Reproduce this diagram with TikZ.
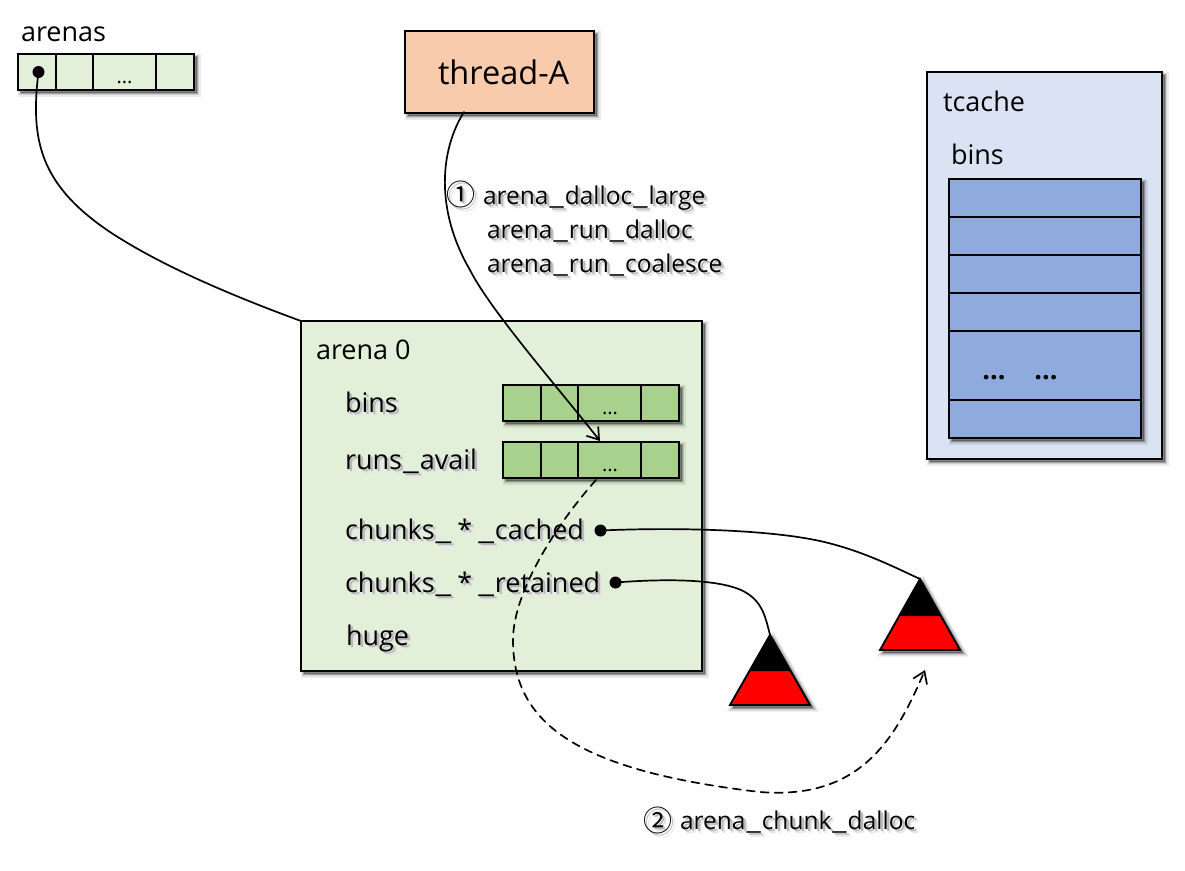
\documentclass[tikz,border=0pt]{standalone}
\usepackage{fontspec}
\setmainfont{Open Sans}
\newfontfamily\cjkf{Noto Sans CJK JP}
\usetikzlibrary{arrows.meta,shapes.geometric}
\definecolor{lightg}{HTML}{E2F0D9}
\definecolor{midg}{HTML}{A9D18E}
\definecolor{peach}{HTML}{F8CBAD}
\definecolor{lightb}{HTML}{DAE3F3}
\definecolor{midb}{HTML}{8FAADC}
\newcommand\fs[1]{\fontsize{#1}{#1}\selectfont}
\newcommand\us{\kern1pt\scalebox{1.3}[1]{\_}\kern1pt}
\newcommand\stsym{\kern5pt*\kern5pt}
\newcommand\st[1]{\leavevmode\rlap{\kern4pt\raisebox{-4pt}{\color{black!10}#1}}\rlap{\kern2.5pt\raisebox{-2.5pt}{\color{black!28}#1}}#1}
\tikzset{
  softshadow/.style={
    preaction={draw=black,fill=black,line width=7pt,opacity=.08,transform canvas={shift={(3pt,-3pt)}}},
    preaction={draw=black,fill=black,line width=4.5pt,opacity=.12,transform canvas={shift={(3pt,-3pt)}}},
    preaction={draw=black,fill=black,line width=2pt,opacity=.2,transform canvas={shift={(3pt,-3pt)}}}},
  box/.style={draw=black,line width=1.9pt,inner sep=0pt,outer sep=0pt,rectangle},
  lbl/.style={anchor=base west,inner sep=0pt,outer sep=0pt,font=\fs{27}},
  sublbl/.style={anchor=base west,inner sep=0pt,outer sep=0pt,font=\fs{24.5}},
  dots/.style={anchor=base,inner sep=0pt,outer sep=0pt,font=\fs{20}},
  pin/.style={circle,fill=black,draw=none,inner sep=0pt,minimum size=12pt},
  conn/.style={line width=1.7pt,line cap=round},
  tip/.style={-{Straight Barb[length=11pt,width=15pt,line width=1.7pt]}},
}
\newcommand\bx[6]{% name, x1,y1,x2,y2, style
  \path (#2,#3) coordinate (#1-tl) (#4,#5) coordinate (#1-br);
  \node[box,#6,minimum width=#4pt-#2pt,minimum height=#5pt-#3pt] (#1) at ({(#2+#4)/2},{(#3+#5)/2}) {};
}
\newcommand\tri[6]{% name, apex x, apex y, half width, height, band y
  \coordinate (#1) at (#2,#3);
  \path[softshadow] (#2,#3) -- (#2+#4,#3+#5) -- (#2-#4,#3+#5) -- cycle;
  \fill[red] (#2,#3) -- (#2+#4,#3+#5) -- (#2-#4,#3+#5) -- cycle;
  \fill[black] (#2,#3) -- (#2+#4*#6/#5,#3+#6) -- (#2-#4*#6/#5,#3+#6) -- cycle;
  \draw[line width=1.9pt,line join=miter] (#2,#3) -- (#2+#4,#3+#5) -- (#2-#4,#3+#5) -- cycle;
}
\begin{document}
\begin{tikzpicture}[x=1pt,y=-1pt]
\useasboundingbox (0,0) rectangle (1185,870);
\fill[white] (0,0) rectangle (1185,870);
% arenas
\node[lbl] (larenas) at (21,41) {arenas};
\bx{ar}{18}{54}{194}{90}{fill=lightg,softshadow}
\bx{ar0}{18}{54}{56}{90}{fill=lightg}
\bx{ar1}{56}{54}{93}{90}{fill=lightg}
\bx{ar2}{93}{54}{156}{90}{fill=lightg}
\bx{ar3}{156}{54}{194}{90}{fill=lightg}
\node[dots] (ard) at (124.5,83) {...};
% thread
\bx{th}{405}{31}{594}{113}{fill=peach,softshadow}
\node[lbl,font=\fs{32.5}] (lth) at (438,84) {thread-A};
% tcache
\bx{tc}{927}{72}{1162}{459}{fill=lightb,softshadow}
\node[lbl] (ltc) at (943,111) {tcache};
\node[lbl] (ltb) at (951,164) {bins};
\bx{tl}{949}{179}{1141}{438}{fill=midb,softshadow}
\bx{tl0}{949}{179}{1141}{217}{fill=midb}
\bx{tl1}{949}{217}{1141}{255}{fill=midb}
\bx{tl2}{949}{255}{1141}{293}{fill=midb}
\bx{tl3}{949}{293}{1141}{331}{fill=midb}
\bx{tl4}{949}{331}{1141}{400}{fill=midb}
\bx{tl5}{949}{400}{1141}{438}{fill=midb}
\node[dots,font=\fs{27}\bfseries] (td1) at (994,379) {...};
\node[dots,font=\fs{27}\bfseries] (td2) at (1046,379) {...};
% arena 0
\bx{ab}{301}{321}{702}{671}{fill=lightg,softshadow}
\node[lbl] (la0) at (316,359) {arena 0};
\node[lbl] (lbi) at (345,412) {\st{bins}};
\node[lbl] (lru) at (345,469) {\st{runs\us avail}};
\node[lbl] (lca) at (345,539) {\st{chunks\us\stsym\us cached}};
\node[lbl] (lre) at (345,592) {\st{chunks\us\stsym\us retained}};
\node[lbl] (lhu) at (346,645) {\st{huge}};
% bins array
\bx{bi}{503}{385}{679}{421}{fill=midg,softshadow}
\bx{bi0}{503}{385}{541}{421}{fill=midg}
\bx{bi1}{541}{385}{578}{421}{fill=midg}
\bx{bi2}{578}{385}{641}{421}{fill=midg}
\bx{bi3}{641}{385}{679}{421}{fill=midg}
\node[dots] (bid) at (610,414) {...};
% runs array
\bx{ru}{503}{442}{679}{478}{fill=midg,softshadow}
\bx{ru0}{503}{442}{541}{478}{fill=midg}
\bx{ru1}{541}{442}{578}{478}{fill=midg}
\bx{ru2}{578}{442}{641}{478}{fill=midg}
\bx{ru3}{641}{442}{679}{478}{fill=midg}
\node[dots] (rud) at (610,471) {...};
% triangles
\tri{tR}{920}{579}{40}{71}{37}
\tri{tL}{770}{635}{40}{70}{36}
% pins
\node[pin] (p0) at (38.5,72) {};
\node[pin] (p1) at (600.5,530.5) {};
\node[pin] (p2) at (615.5,582.5) {};
% connectors
\draw[conn] (p0.center) .. controls (30,140) and (40,185) .. (110,232) .. controls (160,265) and (230,295) .. (ab.north west);
\coordinate (thout) at (464,112);
\coordinate (ruin) at (600,441);
\draw[conn,tip] (thout) .. controls (440,150) and (435,210) .. (470,270) .. controls (490,310) and (560,390) .. (ruin);
\coordinate (ruout) at (596,480);
\coordinate (tRin) at (925,670);
\draw[conn,tip,dash pattern=on 8pt off 6pt] (ruout) .. controls (560,520) and (513,590) .. (513,640) .. controls (513,720) and (570,770) .. (760,792) .. controls (860,800) and (895,740) .. (tRin);
\draw[conn] (p1.center) .. controls (680,527) and (770,530) .. (820,541) .. controls (860,550) and (890,565) .. (tR);
\draw[conn] (p2.center) .. controls (660,579) and (720,578) .. (745,592) .. controls (762,602) and (765,615) .. (tL);
% labels
\node[sublbl,font=\cjkf\fs{29}] (n1) at (446,205) {\st{①}};
\node[sublbl] (l1) at (483,204) {\st{arena\us dalloc\us large}};
\node[sublbl] (l2) at (487,238) {\st{arena\us run\us dalloc}};
\node[sublbl] (l3) at (487,272) {\st{arena\us run\us coalesce}};
\node[sublbl,font=\cjkf\fs{29}] (n2) at (643,831) {\st{②}};
\node[sublbl] (l4) at (680,829) {\st{arena\us chunk\us dalloc}};
\end{tikzpicture}
\end{document}
